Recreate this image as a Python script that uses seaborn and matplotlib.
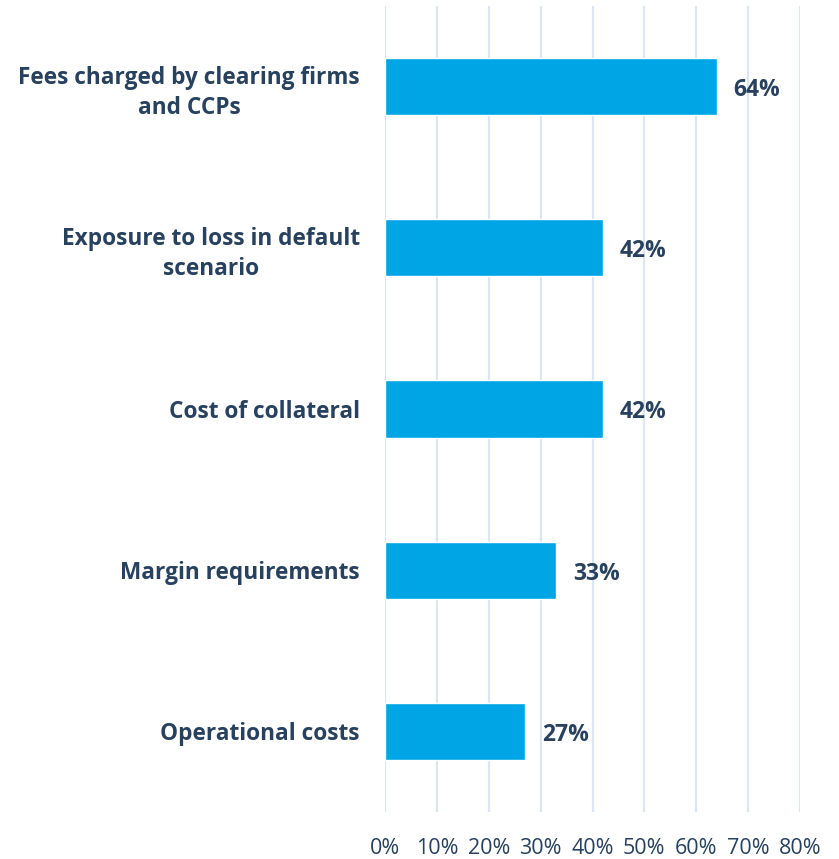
import matplotlib
matplotlib.use("Agg")
import matplotlib.pyplot as plt
import seaborn as sns
import pandas as pd

categories = [
    "Fees charged by clearing firms\nand CCPs",
    "Exposure to loss in default\nscenario",
    "Cost of collateral",
    "Margin requirements",
    "Operational costs",
]
values = [64, 42, 42, 33, 27]
x_ticks = [0, 10, 20, 30, 40, 50, 60, 70, 80]
x_tick_labels = [f"{t}%" for t in x_ticks]

df = pd.DataFrame({"category": categories, "value": values})

sns.set_theme(style="white")
plt.rcParams["font.family"] = ["Open Sans", "DejaVu Sans"]

navy = "#27415e"
bar_color = "#00a5e6"
grid_color = "#dbe6f1"

fig = plt.figure(figsize=(8.39, 8.59), dpi=100)
ax = fig.add_axes([385 / 839, 1 - 812 / 859, 415 / 839, 806 / 859])

sns.barplot(data=df, x="value", y="category", color=bar_color, width=0.355,
            saturation=1, ax=ax, zorder=3)

ax.set_xlim(0, 80)
ax.set_ylim(4.5, -0.5)
ax.set_xticks(x_ticks)
ax.set_xticklabels(x_tick_labels)
ax.xaxis.grid(True, color=grid_color, linewidth=1.6, zorder=0)
ax.yaxis.grid(False)
ax.set_axisbelow(True)
for s in ax.spines.values():
    s.set_visible(False)
ax.set_xlabel("")
ax.set_ylabel("")
ax.tick_params(axis="x", length=0, pad=18.5, labelsize=15.5, labelcolor=navy)
ax.tick_params(axis="y", length=0, pad=18, labelsize=16.3, labelcolor=navy)
for lbl in ax.get_yticklabels():
    lbl.set_fontweight("bold")
    lbl.set_multialignment("center")
    lbl.set_linespacing(1.35)

for i, v in enumerate(values):
    ax.annotate(f"{v}%", xy=(v, i), xytext=(12, -2.5), textcoords="offset points",
                va="center", ha="left", fontsize=16.5, fontweight="bold", color=navy)

fig.savefig("out.png", dpi=100)
